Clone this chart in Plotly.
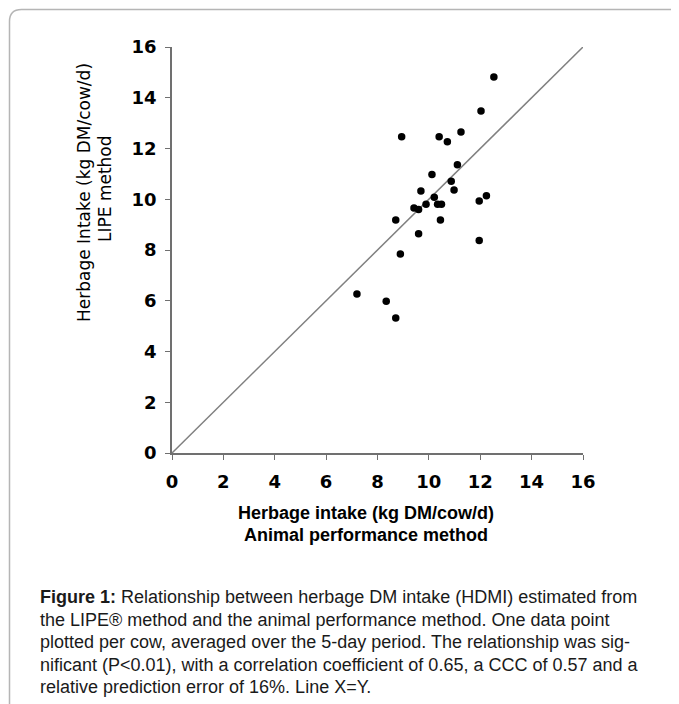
import plotly.graph_objects as go

# Data: (animal performance method, LIPE method) in kg DM/cow/d
x_perf = [12.53, 12.03, 8.94, 10.40, 10.72, 11.25, 11.11, 10.12, 10.87, 10.98,
          9.69, 10.21, 9.89, 10.34, 10.49, 9.42, 9.60, 12.24, 11.96, 8.71,
          10.45, 9.60, 11.96, 8.89, 7.20, 8.34, 8.71]
y_lipe = [14.82, 13.48, 12.46, 12.46, 12.27, 12.65, 11.36, 10.98, 10.71, 10.36,
          10.33, 10.08, 9.80, 9.80, 9.80, 9.66, 9.60, 10.14, 9.93, 9.18,
          9.18, 8.64, 8.37, 7.84, 6.27, 5.98, 5.32]
line_xy = [0, 16]
tick_vals = [0, 2, 4, 6, 8, 10, 12, 14, 16]

x_title_1 = "Herbage intake (kg DM/cow/d)"
x_title_2 = "Animal performance method"
y_title_1 = "Herbage Intake (kg DM/cow/d)"
y_title_2 = "LIPE method"
caption_lines = [
    "<b>Figure 1:</b> Relationship between herbage DM intake (HDMI) estimated from",
    "the LIPE® method and the animal performance method. One data point",
    "plotted per cow, averaged over the 5-day period. The relationship was sig-",
    "nificant (P<0.01), with a correlation coefficient of 0.65, a CCC of 0.57 and a",
    "relative prediction error of 16%. Line X=Y.",
]

W, H = 679, 704
OFF = 8  # page body margin
L, R, T, B = 172 - OFF, 583 - OFF, 47 - OFF, 453 - OFF  # plot area in figure pixels


def px(xp):
    # xp given in window pixels
    return (xp - OFF - L) / (R - L)


def py(yp):
    return (B - (yp - OFF)) / (B - T)


fig = go.Figure()
fig.add_trace(go.Scatter(x=line_xy, y=line_xy, mode="lines",
                         line=dict(color="#808080", width=1.5),
                         hoverinfo="skip", showlegend=False))
fig.add_trace(go.Scatter(x=x_perf, y=y_lipe, mode="markers",
                         marker=dict(color="black", size=7.5),
                         showlegend=False))

axis_common = dict(range=[0, 16], tickvals=tick_vals, ticks="outside", ticklen=5,
                   tickcolor="#707070", tickwidth=1.3, showline=True,
                   linecolor="#707070", linewidth=1.5, showgrid=False,
                   zeroline=False, fixedrange=True,
                   tickfont=dict(family="DejaVu Sans", size=18,
                                 color="black", weight="bold"))

fig.update_xaxes(**axis_common, ticklabelstandoff=7)
fig.update_yaxes(**axis_common, ticklabelstandoff=5)

annotations = []
for txt, yc in [(x_title_1, 513), (x_title_2, 535)]:
    annotations.append(dict(x=px(366), y=py(yc), xref="paper", yref="paper",
                            text="<b>" + txt + "</b>", showarrow=False,
                            xanchor="center", yanchor="middle", align="center",
                            font=dict(family="Liberation Sans, Arial", size=18,
                                      color="black")))
annotations.append(dict(x=px(84), y=py(193), xref="paper", yref="paper",
                        text=y_title_1, showarrow=False, textangle=-90,
                        xanchor="center", yanchor="middle",
                        font=dict(family="DejaVu Sans", size=17,
                                  color="black")))
annotations.append(dict(x=px(105), y=py(189), xref="paper", yref="paper",
                        text=y_title_2, showarrow=False, textangle=-90,
                        xanchor="center", yanchor="middle",
                        font=dict(family="DejaVu Sans", size=17,
                                  color="black")))
for i, line in enumerate(caption_lines):
    annotations.append(dict(x=px(38), y=py(597 + 22.6 * i), xref="paper",
                            yref="paper", text=line, showarrow=False,
                            xanchor="left", yanchor="middle", align="left",
                            font=dict(family="Liberation Sans, Arial", size=18,
                                      color="#1a1a1a")))

# frame with rounded top-left corner
r = 12
fx, fy = 9.5, 9.5
path = (f"M {px(fx)} {py(730)} L {px(fx)} {py(fy + r)} "
        f"Q {px(fx)} {py(fy)} {px(fx + r)} {py(fy)} L {px(720)} {py(fy)}")
fig.add_shape(type="path", path=path, xref="paper", yref="paper",
              line=dict(color="#b5b5b5", width=1.5))

fig.update_layout(width=W, height=H,
                  margin=dict(l=L, r=W - R, t=T, b=H - B, pad=0),
                  paper_bgcolor="white", plot_bgcolor="white",
                  annotations=annotations, showlegend=False)

fig.write_html("out.html")
